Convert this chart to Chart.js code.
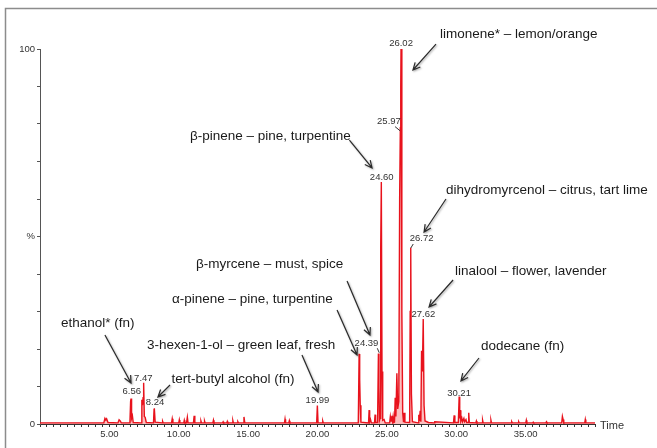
<!DOCTYPE html>
<html>
<head>
<meta charset="utf-8">
<script src="https://cdn.jsdelivr.net/npm/chart.js@4.4.1/dist/chart.umd.min.js"></script>
<style>
html,body{margin:0;padding:0;background:#fff;}
#wrap{width:657px;height:448px;position:relative;}
</style>
</head>
<body>
<div id="wrap"><canvas id="c" width="657" height="448"></canvas></div>
<script>
// ---- data: retention time (min) and relative abundance (%) ----
const times = [
 0.00,4.60,4.68,4.74,4.80,4.90,5.62,5.70,5.78,5.86,
 6.48,6.53,6.56,6.60,6.66,6.72,7.28,7.34,7.39,7.43,7.47,7.52,7.58,7.66,
 8.18,8.22,8.24,8.30,8.80,8.84,8.88,9.48,9.53,9.58,10.00,10.04,10.08,
 10.36,10.40,10.44,10.56,10.62,10.67,11.06,11.11,11.16,11.56,11.60,11.64,
 11.82,11.86,11.90,12.46,12.50,12.54,13.16,13.20,13.24,13.46,13.50,13.54,
 13.86,13.90,13.94,14.22,14.26,14.30,14.64,14.70,14.76,17.62,17.66,17.70,
 17.93,17.97,18.01,19.94,19.99,20.04,20.34,20.38,20.42,
 22.94,23.00,23.04,23.08,23.13,23.68,23.72,23.76,23.82,23.88,24.11,24.15,24.19,
 24.33,24.39,24.43,24.47,24.51,24.54,24.57,24.60,24.65,24.70,24.80,24.88,
 25.20,25.25,25.30,25.36,25.41,25.45,25.50,25.55,25.60,25.65,25.72,25.78,
 25.86,25.92,25.97,26.00,26.02,26.08,26.14,26.20,26.25,26.30,
 26.64,26.68,26.72,26.77,26.84,27.25,27.30,27.34,27.40,27.45,27.50,27.56,
 27.62,27.68,27.75,28.00,28.40,28.45,29.80,29.85,29.90,30.15,30.21,30.25,
 30.29,30.33,30.40,30.45,30.55,30.60,30.70,30.75,30.86,30.90,30.94,
 31.41,31.45,31.49,31.86,31.90,31.94,32.46,32.50,32.54,33.96,34.00,34.04,
 34.46,34.50,34.54,35.01,35.05,35.09,35.51,35.55,35.59,36.46,36.50,36.54,
 37.60,37.65,37.70,37.75,39.26,39.30,39.34,40.00
];
const intensity = [
 0.3,0.3,1.5,1.1,1.4,0.4,0.3,1.1,0.8,0.3,
 0.3,6.0,6.8,1.5,2.2,0.4,0.3,6.5,5.0,7.0,11.0,2.0,1.8,0.4,
 0.3,3.8,4.2,0.5,0.3,0.7,0.3,0.3,1.4,0.3,0.3,1.1,0.3,
 0.3,1.0,0.4,0.3,1.8,0.3,0.3,2.2,0.3,0.3,0.8,0.3,
 0.3,0.8,0.3,0.3,1.0,0.3,0.3,0.6,0.3,0.3,0.7,0.3,
 0.3,0.9,0.3,0.3,0.6,0.3,0.3,1.9,0.3,0.3,1.3,0.3,
 0.3,0.9,0.3,0.3,4.9,0.3,0.3,0.8,0.3,
 0.3,18.7,12.0,5.0,0.5,0.3,3.7,0.6,1.2,0.3,0.3,2.5,0.4,
 0.4,18.8,10.0,1.0,1.5,40.0,47.0,64.5,14.0,1.0,1.2,0.3,
 0.3,2.0,0.8,2.2,0.8,2.0,0.4,0.5,7.0,2.0,13.5,4.0,
 6.0,60.0,79.0,90.0,100.0,30.0,3.0,0.5,3.0,0.5,
 0.4,30.0,47.0,8.0,0.6,0.3,2.5,0.8,3.5,0.6,19.5,14.0,
 28.0,5.0,0.8,0.4,0.3,0.6,0.3,2.3,0.4,0.4,7.3,1.5,
 3.7,0.8,1.6,0.6,1.5,0.6,1.2,0.4,0.4,3.0,0.4,
 0.3,0.8,0.3,0.3,1.0,0.3,0.3,1.0,0.3,0.3,0.6,0.3,
 0.3,0.6,0.3,0.3,1.0,0.3,0.3,0.5,0.3,0.3,0.6,0.3,
 0.3,2.0,1.2,0.3,0.3,1.2,0.3,0.3
];
// tick labels
const xTickValues = [5,10,15,20,25,30,35];
const xTickLabels = ['5.00','10.00','15.00','20.00','25.00','30.00','35.00'];
const yTickValues = [0,50,100];
const yTickLabels = ['0','%','100'];
// peak retention-time labels
const peakLabels = ['26.02','25.97','24.60','26.72','27.62','24.39','30.21','19.99','6.56','7.47','8.24'];
// compound annotations
const compoundLabels = [
 'limonene* – lemon/orange',
 'β-pinene – pine, turpentine',
 'dihydromyrcenol – citrus, tart lime',
 'linalool – flower, lavender',
 'β-myrcene – must, spice',
 'α-pinene – pine, turpentine',
 'ethanol* (fn)',
 '3-hexen-1-ol – green leaf, fresh',
 'tert-butyl alcohol (fn)',
 'dodecane (fn)'
];

// ---- layout of annotations (in data units: [time, %]) ----
const peakLabelLayout = [
 {at:[26.02,101.5]},
 {at:[25.15,80.6], lead:[[25.59,79.3],[25.95,78.2]]},
 {at:[24.63,65.9]},
 {at:[27.50,49.5], lead:[[26.90,48.0],[26.72,46.9]]},
 {at:[27.63,29.3]},
 {at:[23.53,21.5], lead:[[24.31,20.2],[24.45,19.0]]},
 {at:[30.20,8.2]},
 {at:[20.00,6.4]},
 {at:[6.61,8.8]},
 {at:[7.45,12.3]},
 {at:[8.29,5.7]}
];
const compoundLayout = [
 {at:[28.83,104.0], from:[28.54,101.3], to:[26.88,94.4]},
 {at:[10.81,76.67], from:[22.30,75.73], to:[23.93,68.27]},
 {at:[29.26,62.4], from:[29.26,60.0], to:[27.68,51.2]},
 {at:[29.91,40.61], from:[29.77,38.4], to:[28.04,31.2]},
 {at:[11.24,42.67], from:[22.13,38.13], to:[23.78,23.73]},
 {at:[9.51,33.33], from:[21.41,30.4], to:[22.85,18.4]},
 {at:[1.51,26.93], from:[4.68,23.73], to:[6.56,10.93]},
 {at:[7.71,21.07], from:[18.88,18.4], to:[20.04,8.53]},
 {at:[9.48,11.92], from:[9.37,10.4], to:[8.50,7.2]},
 {at:[31.78,20.8], from:[31.64,17.6], to:[30.34,11.47]}
];

const FONT = "'Liberation Sans', Arial, Helvetica, sans-serif";

const annotPlugin = {
  id: 'annot',
  afterDraw(chart) {
    const ctx = chart.ctx;
    const xs = chart.scales.x, ys = chart.scales.y;
    const px = t => xs.getPixelForValue(t);
    const py = v => ys.getPixelForValue(v);
    ctx.save();
    // outer frame (top and left)
    ctx.strokeStyle = '#8c8c8c';
    ctx.lineWidth = 1.5;
    ctx.beginPath();
    ctx.moveTo(5.5, 448); ctx.lineTo(5.5, 8.5); ctx.lineTo(657, 8.5);
    ctx.stroke();
    // axis title "Time"
    ctx.fillStyle = '#333';
    ctx.font = '11px ' + FONT;
    ctx.textAlign = 'left';
    ctx.textBaseline = 'middle';
    ctx.fillText('Time', xs.right + 5, ys.bottom + 2);
    // peak labels
    ctx.font = '9.5px ' + FONT;
    ctx.textAlign = 'center';
    ctx.strokeStyle = '#333';
    ctx.lineWidth = 1;
    peakLabels.forEach((txt, i) => {
      const L = peakLabelLayout[i];
      ctx.fillText(txt, px(L.at[0]), py(L.at[1]));
      if (L.lead) {
        ctx.beginPath();
        ctx.moveTo(px(L.lead[0][0]), py(L.lead[0][1]));
        ctx.lineTo(px(L.lead[1][0]), py(L.lead[1][1]));
        ctx.stroke();
      }
    });
    // compound labels + arrows
    ctx.font = '13.5px ' + FONT;
    ctx.textAlign = 'left';
    ctx.fillStyle = '#1a1a1a';
    compoundLabels.forEach((txt, i) => {
      const L = compoundLayout[i];
      ctx.fillText(txt, px(L.at[0]), py(L.at[1]));
    });
    ctx.strokeStyle = '#2a2a2a';
    ctx.lineWidth = 1.2;
    ctx.shadowColor = 'rgba(0,0,0,0.35)';
    ctx.shadowBlur = 2;
    ctx.shadowOffsetX = 1;
    ctx.shadowOffsetY = 1;
    compoundLayout.forEach(L => {
      const x1 = px(L.from[0]), y1 = py(L.from[1]);
      const x2 = px(L.to[0]), y2 = py(L.to[1]);
      const a = Math.atan2(y2 - y1, x2 - x1);
      const h = 8, w = 0.45;
      ctx.beginPath();
      ctx.moveTo(x1, y1); ctx.lineTo(x2, y2);
      ctx.moveTo(x2 - h * Math.cos(a - w), y2 - h * Math.sin(a - w));
      ctx.lineTo(x2, y2);
      ctx.lineTo(x2 - h * Math.cos(a + w), y2 - h * Math.sin(a + w));
      ctx.stroke();
    });
    ctx.restore();
  }
};

new Chart(document.getElementById('c'), {
  type: 'line',
  data: {
    labels: times,
    datasets: [{
      data: times.map((t, i) => ({x: t, y: intensity[i]})),
      borderColor: 'rgb(232,18,28)',
      backgroundColor: 'rgba(248,110,110,0.45)',
      borderWidth: 1.4,
      fill: 'origin',
      pointRadius: 0,
      tension: 0
    }]
  },
  options: {
    responsive: false,
    animation: false,
    devicePixelRatio: 1,
    layout: {padding: {left: 0, right: 62, top: 49, bottom: 0}},
    plugins: {legend: {display: false}, tooltip: {enabled: false}},
    scales: {
      x: {
        type: 'linear', min: 0, max: 40,
        afterFit: s => { s.height = 24; },
        border: {color: '#333', width: 1},
        grid: {drawOnChartArea: false, drawTicks: true, tickLength: 3, color: '#333'},
        ticks: {
          stepSize: 0.5, autoSkip: false, maxRotation: 0, padding: 2,
          color: '#333', font: {family: FONT, size: 9.5},
          callback: v => { const k = xTickValues.indexOf(v); return k >= 0 ? xTickLabels[k] : ''; }
        }
      },
      y: {
        min: 0, max: 100,
        afterFit: s => { s.width = 40; },
        border: {color: '#555', width: 1},
        grid: {drawOnChartArea: false, drawTicks: true, tickLength: 3, color: '#555'},
        ticks: {
          stepSize: 10, autoSkip: false, padding: 2,
          color: '#333', font: {family: FONT, size: 9.5},
          callback: v => { const k = yTickValues.indexOf(v); return k >= 0 ? yTickLabels[k] : ''; }
        }
      }
    }
  },
  plugins: [annotPlugin]
});
</script>
</body>
</html>
